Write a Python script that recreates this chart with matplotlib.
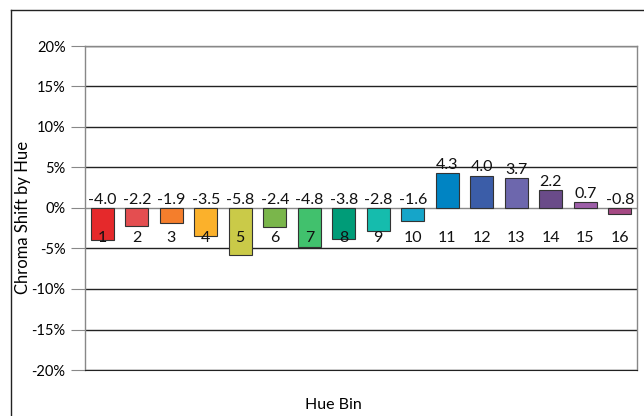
import matplotlib
matplotlib.use("Agg")
import matplotlib.pyplot as plt
from matplotlib.lines import Line2D

bins = [str(i) for i in range(1, 17)]
shift = [-4.0, -2.2, -1.9, -3.5, -5.8, -2.4, -4.8, -3.8, -2.8, -1.6,
         4.3, 4.0, 3.7, 2.2, 0.7, -0.8]
colors = ["#E5292B", "#E44E50", "#F47E2C", "#FBB12B", "#CACA48", "#7AB64B",
          "#41C16D", "#009C78", "#15BCAD", "#16A5C9", "#0084C3", "#3B5DA8",
          "#6D67AD", "#6A4B89", "#9D5EA8", "#A64A84"]
yticks = [-20, -15, -10, -5, 0, 5, 10, 15, 20]

plt.rcParams["font.family"] = ["Lato", "DejaVu Sans"]

W, H = 644, 416
fig = plt.figure(figsize=(W / 100, H / 100), dpi=100)
ax = fig.add_axes([85 / W, 1 - 370 / H, (637 - 85) / W, (370 - 46) / H])

x = list(range(len(bins)))
ax.bar(x, shift, width=0.68, color=colors, edgecolor="#333333", linewidth=0.8, zorder=3)

for xi, v in zip(x, shift):
    ax.annotate(f"{v:.1f}", (xi, max(v, 0)), xytext=(0, 1), textcoords="offset points",
                ha="center", va="bottom", fontsize=11.5, color="#111111", zorder=4)
    ax.text(xi, -2.8, bins[xi], ha="center", va="top", fontsize=11.5,
            color="#111111", zorder=4)

ax.set_xlim(-0.5, len(bins) - 0.5)
ax.set_ylim(-20, 20)
ax.set_yticks(yticks)
ax.set_yticklabels([f"{t}%" for t in yticks], fontsize=10.5)
ax.set_xticks([])
for t in yticks:
    ax.axhline(t, color="#222222" if t != 0 else "#888888", lw=1.0, zorder=1)
ax.tick_params(axis="y", length=10, width=0.8, color="#888888", pad=4)

for s in ["top", "right", "left"]:
    ax.spines[s].set_color("#888888")
    ax.spines[s].set_linewidth(1.0)
ax.spines["bottom"].set_color("#222222")

fig.text(23 / W, 1 - 217 / H, "Chroma Shift by Hue", rotation=90,
         ha="center", va="center", fontsize=12)
fig.text(333 / W, 1 - 405 / H, "Hue Bin", ha="center", va="center", fontsize=11.5)

# outer chart frame
fig.add_artist(Line2D([11 / W, 11 / W], [1 - 10 / H, 0], transform=fig.transFigure,
                      color="#222222", lw=1.0))
fig.add_artist(Line2D([11 / W, 1], [1 - 10 / H, 1 - 10 / H], transform=fig.transFigure,
                      color="#222222", lw=1.0))

fig.savefig("out.png", dpi=100)
